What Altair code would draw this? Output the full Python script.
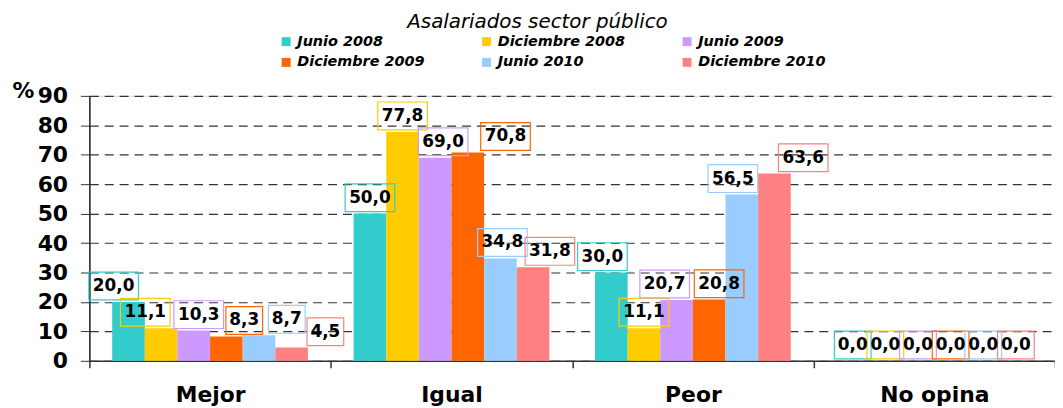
import altair as alt
import pandas as pd

# ---- data ----
categories = ["Mejor", "Igual", "Peor", "No opina"]
series = ["Junio 2008", "Diciembre 2008", "Junio 2009",
          "Diciembre 2009", "Junio 2010", "Diciembre 2010"]
colors = ["#33CCCC", "#FFCC00", "#CC99FF", "#FF6600", "#99CCFF", "#FF8080"]

junio_2008 = [20.0, 50.0, 30.0, 0.0]
diciembre_2008 = [11.1, 77.8, 11.1, 0.0]
junio_2009 = [10.3, 69.0, 20.7, 0.0]
diciembre_2009 = [8.3, 70.8, 20.8, 0.0]
junio_2010 = [8.7, 34.8, 56.5, 0.0]
diciembre_2010 = [4.5, 31.8, 63.6, 0.0]

y_ticks = [0, 10, 20, 30, 40, 50, 60, 70, 80, 90]

all_values = [junio_2008, diciembre_2008, junio_2009,
              diciembre_2009, junio_2010, diciembre_2010]

# ---- layout / styling (not data) ----
PLOT_W, PLOT_H = 973, 267
OUTER = 0.7                       # outer padding of the bar group, in bar slots
SLOTS = len(series) + 2 * OUTER
SLOT_PX = PLOT_W / len(categories) / SLOTS
# horizontal nudges of the value labels (px), as placed in the original chart
label_nudge = {
    "Mejor":    [-15, -16, 5, 18, 28, 34],
    "Igual":    [0, 0, 8, 38, 2, 17],
    "Peor":     [-9, 0, -12, 10, -9, 29],
    "No opina": [0, 0, 0, 0, 0, 0],
}

rows = []
for si, (s, vals) in enumerate(zip(series, all_values)):
    for c, v in zip(categories, vals):
        label = f"{v:.1f}".replace(".", ",")
        rows.append({
            "categoria": c, "serie": s, "valor": v,
            "etiqueta": label, "largo": len(label),
            "pos": OUTER + si + 0.5 + label_nudge[c][si] / SLOT_PX,
        })
df = pd.DataFrame(rows)

FONT = "DejaVu Sans"

x_enc = alt.X(
    "categoria:N", sort=categories,
    scale=alt.Scale(paddingInner=0, paddingOuter=0),
    axis=alt.Axis(title=None, tickBand="extent", labelAngle=0,
                  domainColor="#333333", domainWidth=1.5,
                  tickColor="#333333", tickSize=7, tickWidth=1.5,
                  labelFont=FONT, labelFontWeight="bold", labelFontSize=22,
                  labelColor="black", labelPadding=17, grid=False),
)
xoff_bar = alt.XOffset("serie:N", sort=series,
                       scale=alt.Scale(paddingInner=0, paddingOuter=OUTER))
xoff_lab = alt.XOffset("pos:Q", scale=alt.Scale(domain=[0, SLOTS], nice=False, zero=False))
y_enc = alt.Y(
    "valor:Q",
    scale=alt.Scale(domain=[0, 90], nice=False),
    axis=alt.Axis(values=y_ticks, title="%", titleAngle=0, titleX=-78,
                  titleY=-5, titleAlign="left", titleBaseline="middle",
                  titleFont=FONT, titleFontSize=22, titleFontWeight="bold",
                  titleColor="black",
                  domainColor="#222222", domainWidth=1.5,
                  tickColor="#333333", tickSize=9, tickWidth=1,
                  grid=True, gridDash=[9, 6], gridColor="#333333",
                  gridWidth=1.2,
                  labelFont=FONT, labelFontWeight="bold", labelFontSize=22,
                  labelColor="black", labelPadding=13),
)
color_scale = alt.Scale(domain=series, range=colors)

bars = alt.Chart(df).mark_bar(strokeWidth=0).encode(
    x=x_enc, xOffset=xoff_bar, y=y_enc,
    color=alt.Color(
        "serie:N", sort=series, scale=color_scale,
        legend=alt.Legend(
            title=None, orient="none", legendX=191, legendY=-62,
            direction="horizontal",
            columns=3, columnPadding=55, rowPadding=6, padding=0,
            symbolType="square", symbolSize=81, symbolStrokeWidth=0,
            labelFont=FONT, labelFontSize=14.5, labelFontWeight="bold",
            labelFontStyle="italic", labelColor="black", labelOffset=4,
        ),
    ),
)

box3 = "M-1,-0.757L1,-0.757L1,0.757L-1,0.757Z"
box4 = "M-1,-0.56L1,-0.56L1,0.56L-1,0.56Z"

boxes = alt.Chart(df).mark_point(
    filled=False, strokeWidth=1.2, opacity=1, yOffset=-16
).encode(
    x=x_enc, xOffset=xoff_lab, y=y_enc,
    color=alt.Color("serie:N", sort=series, scale=color_scale, legend=None),
    shape=alt.Shape("largo:N", scale=alt.Scale(domain=[3, 4], range=[box3, box4]),
                    legend=None),
    size=alt.Size("largo:Q", scale=alt.Scale(domain=[3, 4], range=[37 ** 2, 50 ** 2]),
                  legend=None),
)

labels = alt.Chart(df).mark_text(
    font=FONT, fontWeight="bold", fontSize=17, baseline="middle",
    dy=-16, color="black"
).encode(
    x=x_enc, xOffset=xoff_lab, y=y_enc, text="etiqueta:N",
)

labels_layer = alt.layer(boxes, labels)

chart = alt.layer(bars, labels_layer).resolve_scale(
    xOffset="independent"
).properties(
    width=PLOT_W, height=PLOT_H,
    autosize=alt.AutoSizeParams(type="none"),
    padding={"left": 82, "top": 87, "right": 0, "bottom": 46},
    title=alt.TitleParams(
        "Asalariados sector público", font=FONT, fontSize=20,
        fontStyle="italic", fontWeight="normal", color="black",
        anchor="middle", dx=-35, offset=2,
    ),
).configure_view(stroke=None).configure(background="white")

chart.save("out.html", embed_options={"renderer": "svg", "actions": False})
